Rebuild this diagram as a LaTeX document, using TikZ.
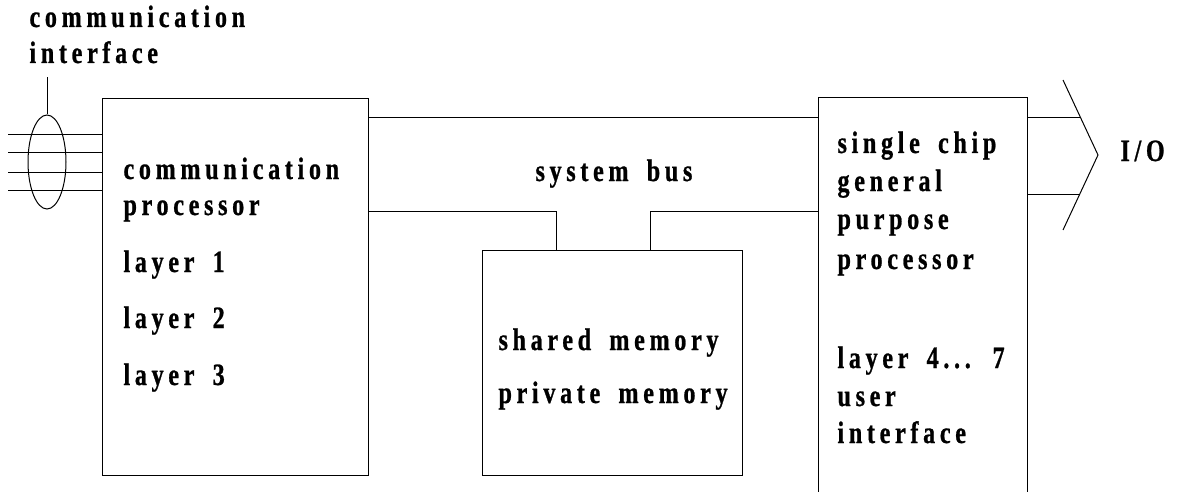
\documentclass[tikz,border=0pt]{standalone}
\usepackage{fontspec}
\usetikzlibrary{shapes.geometric}
\newfontfamily\lblfont{Liberation Serif}[LetterSpace=15, FakeStretch=0.78, WordSpace=1.7, FakeBold=0.8]
\tikzset{
  lbl/.style={font=\lblfont\bfseries\fontsize{31}{35}\selectfont, anchor=base west, inner sep=0pt},
  boxs/.style={draw, anchor=north west, inner sep=0pt},
  wire/.style={line width=1pt}
}
\begin{document}
\begin{tikzpicture}[x=1pt,y=-1pt,line width=1pt]
\useasboundingbox (0,0) rectangle (1178,492);
% boxes
\node[boxs, minimum width=266, minimum height=377] (cp) at (102,98) {};
\node[boxs, minimum width=260, minimum height=225] (mem) at (482,250) {};
\node[anchor=north west, inner sep=0pt, minimum width=208, minimum height=394] (gp) at (818,98) {};
\draw (gp.south west) -- (gp.north west) -- (gp.north east) -- (gp.south east);
% bus
\coordinate (b1) at (0,118);
\coordinate (b2) at (0,211);
\coordinate (m1) at (556,250);
\coordinate (m2) at (650,250);
\draw[wire] (cp.east |- b1) -- (gp.west |- b1);
\draw[wire] (cp.east |- b2) -| (m1);
\draw[wire] (m2) |- (gp.west |- b2);
% interface wires
\foreach \y [count=\i] in {135,153,172,190} {
  \coordinate (w\i) at (8,\y);
  \draw[wire] (w\i) -- (cp.west |- w\i);
}
\node[draw, ellipse, minimum width=38, minimum height=94, inner sep=0pt] (el) at (47,162) {};
\coordinate (eltop) at (47,77);
\draw (el.north) -- (eltop);
% I/O
\coordinate (ch1) at (1063,80);
\coordinate (ch2) at (1098,155);
\coordinate (ch3) at (1063,230);
\coordinate (o1) at (1081,118);
\coordinate (o2) at (1080,194);
\draw (ch1) -- (ch2) -- (ch3);
\draw[wire] (gp.east |- o1) -- (o1);
\draw[wire] (gp.east |- o2) -- (o2);
% labels
\node[lbl] (ci1) at (29,27) {communication};
\node[lbl] (ci2) at (29,63) {interface};
\node[lbl] (cp1) at (123,179) {communication};
\node[lbl] (cp2) at (123,215) {processor};
\node[lbl] (cp3) at (123,272) {layer 1};
\node[lbl] (cp4) at (123,328) {layer 2};
\node[lbl] (cp5) at (123,385) {layer 3};
\node[lbl] (sb) at (535,181) {system bus};
\node[lbl] (mm1) at (498,350) {shared memory};
\node[lbl] (mm2) at (498,403) {private memory};
\node[lbl] (gp1) at (837,153) {single chip};
\node[lbl] (gp2) at (837,191) {general};
\node[lbl] (gp3) at (837,229) {purpose};
\node[lbl] (gp4) at (837,269) {processor};
\node[lbl] (gp5) at (837,368) {layer 4... 7};
\node[lbl] (gp6) at (837,406) {user};
\node[lbl] (gp7) at (837,443) {interface};
\node[lbl] (io) at (1120,161) {I/O};
\end{tikzpicture}
\end{document}
